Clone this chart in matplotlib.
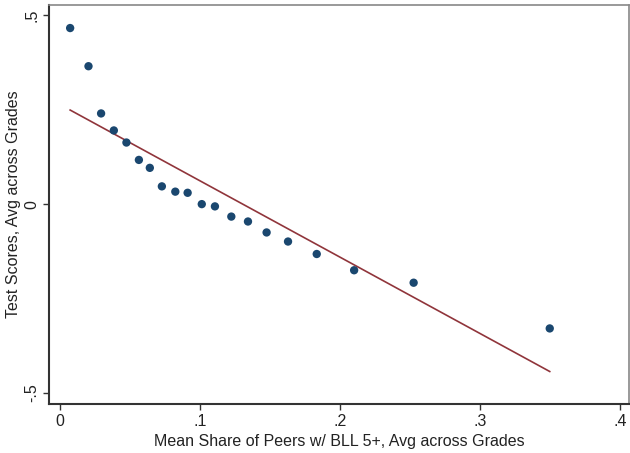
import numpy as np
import matplotlib
matplotlib.use("Agg")
import matplotlib.pyplot as plt

plt.rcParams['font.family'] = ['Liberation Sans', 'DejaVu Sans']

# binned means: share of peers with BLL 5+ vs test scores
peer_share = [0.0072, 0.0203, 0.0293, 0.0384, 0.0474, 0.0563, 0.0641, 0.0727,
              0.0823, 0.0911, 0.1012, 0.1106, 0.1223, 0.1342, 0.1475, 0.1628,
              0.1833, 0.2100, 0.2525, 0.3497]
test_score = [0.466, 0.365, 0.240, 0.195, 0.163, 0.117, 0.096, 0.047,
              0.033, 0.030, 0.000, -0.006, -0.033, -0.046, -0.075, -0.099,
              -0.132, -0.175, -0.208, -0.329]

# linear fit line endpoints
fit_x = [0.0072, 0.3497]
fit_y = [0.249, -0.443]

xticks = [0, 0.1, 0.2, 0.3, 0.4]
xticklabels = ['0', '.1', '.2', '.3', '.4']
yticks = [-0.5, 0, 0.5]
yticklabels = ['-.5', '0', '.5']

fig = plt.figure(figsize=(6.3, 4.53), dpi=100)
ax = fig.add_axes([49/630, 1 - 404/453, 580/630, 399/453])

ax.plot(fit_x, fit_y, color='#90353b', lw=1.2, zorder=2)
ax.scatter(peer_share, test_score, s=36, color='#1a476f', edgecolors='none', zorder=3)

ax.set_xlim(-0.0079, 0.4063)
ax.set_ylim(-0.529, 0.527)

ax.set_xticks(xticks)
ax.set_xticklabels(xticklabels)
ax.set_yticks(yticks)
ax.set_yticklabels(yticklabels, rotation=90, va='center')

ax.tick_params(axis='both', direction='out', length=4, width=1, color='#333333',
               labelsize=11.5, labelcolor='#222222', pad=3)

for side in ['left', 'bottom']:
    ax.spines[side].set_color('#333333')
    ax.spines[side].set_linewidth(1.5)
for side in ['top', 'right']:
    ax.spines[side].set_color('#888888')
    ax.spines[side].set_linewidth(1.2)

ax.set_xlabel('Mean Share of Peers w/ BLL 5+, Avg across Grades', fontsize=11.5,
              color='#222222', labelpad=4)
ax.set_ylabel('Test Scores, Avg across Grades', fontsize=11.5, color='#222222', labelpad=2)

fig.savefig('out.png', dpi=100)
